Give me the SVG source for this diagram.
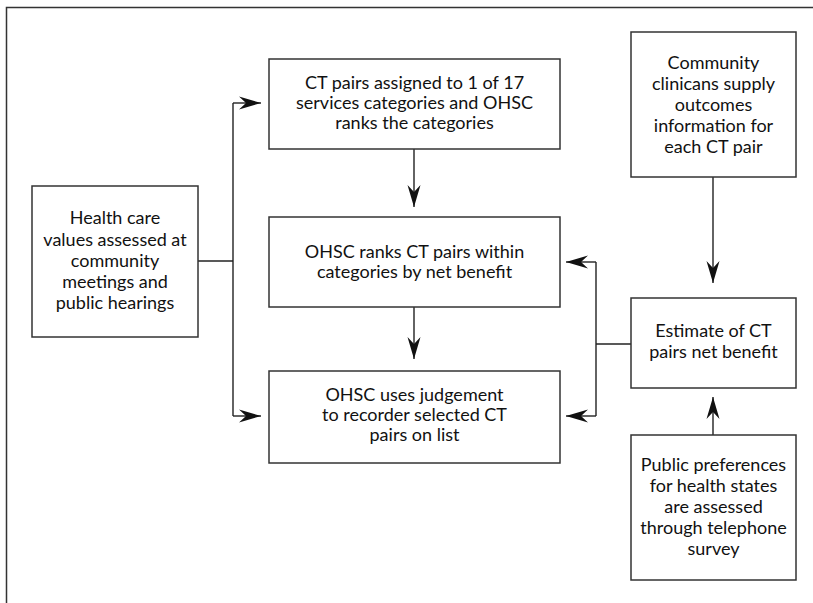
<svg xmlns="http://www.w3.org/2000/svg" width="813" height="603" viewBox="0 0 813 603">
<style>
.box{fill:#fff;stroke:#333;stroke-width:1.5}
.t{font-family:Lato,"Liberation Sans",sans-serif;font-size:18px;fill:#111;text-anchor:middle}
.ln{fill:none;stroke:#222;stroke-width:1.4}
.frame{fill:none;stroke:#333;stroke-width:1.5}
</style>
<defs>
<marker id="ah" markerUnits="userSpaceOnUse" markerWidth="26" markerHeight="16" viewBox="-23 -8 24 16" refX="0" refY="0" orient="auto">
<path d="M0,0 L-22,-6.5 L-15,0 L-22,6.5 Z" fill="#111"/>
</marker>
</defs>
<rect width="813" height="603" fill="#fff"/>
<path class="frame" d="M6.5,603 V7.5 H813"/>
<g id="connectors">
<path class="ln" d="M198,261 H233"/>
<path class="ln" d="M233,103 V416"/>
<path class="ln" d="M233,103 H261" marker-end="url(#ah)"/>
<path class="ln" d="M233,416 H261" marker-end="url(#ah)"/>
<path class="ln" d="M414,149 V207" marker-end="url(#ah)"/>
<path class="ln" d="M414,307 V359" marker-end="url(#ah)"/>
<path class="ln" d="M713,177 V283" marker-end="url(#ah)"/>
<path class="ln" d="M713,435 V397" marker-end="url(#ah)"/>
<path class="ln" d="M631,344 H596"/>
<path class="ln" d="M596,262 V416"/>
<path class="ln" d="M596,262 H566" marker-end="url(#ah)"/>
<path class="ln" d="M596,416 H566" marker-end="url(#ah)"/>
</g>
<g id="n_values">
<rect class="box" x="32" y="186" width="166" height="151"/>
<text class="t" x="115" y="224">Health care</text>
<text class="t" x="115" y="246">values assessed at</text>
<text class="t" x="115" y="267">community</text>
<text class="t" x="115" y="288">meetings and</text>
<text class="t" x="115" y="309">public hearings</text>
</g>
<g id="n_assign">
<rect class="box" x="269" y="59" width="291" height="90"/>
<text class="t" x="414.5" y="89">CT pairs assigned to 1 of 17</text>
<text class="t" x="414.5" y="109">services categories and OHSC</text>
<text class="t" x="414.5" y="129">ranks the categories</text>
</g>
<g id="n_rank">
<rect class="box" x="269" y="217" width="291" height="90"/>
<text class="t" x="414.5" y="258">OHSC ranks CT pairs within</text>
<text class="t" x="414.5" y="278">categories by net benefit</text>
</g>
<g id="n_judge">
<rect class="box" x="269" y="371" width="291" height="92"/>
<text class="t" x="414.5" y="401">OHSC uses judgement</text>
<text class="t" x="414.5" y="421">to recorder selected CT</text>
<text class="t" x="414.5" y="441">pairs on list</text>
</g>
<g id="n_clinicians">
<rect class="box" x="631" y="32" width="165" height="145"/>
<text class="t" x="713.5" y="69">Community</text>
<text class="t" x="713.5" y="90">clinicans supply</text>
<text class="t" x="713.5" y="111">outcomes</text>
<text class="t" x="713.5" y="132">information for</text>
<text class="t" x="713.5" y="153">each CT pair</text>
</g>
<g id="n_estimate">
<rect class="box" x="631" y="298" width="165" height="90"/>
<text class="t" x="713.5" y="337">Estimate of CT</text>
<text class="t" x="713.5" y="358">pairs net benefit</text>
</g>
<g id="n_public">
<rect class="box" x="631" y="435" width="165" height="145"/>
<text class="t" x="713.5" y="471">Public preferences</text>
<text class="t" x="713.5" y="492">for health states</text>
<text class="t" x="713.5" y="513">are assessed</text>
<text class="t" x="713.5" y="534">through telephone</text>
<text class="t" x="713.5" y="555">survey</text>
</g>
</svg>
